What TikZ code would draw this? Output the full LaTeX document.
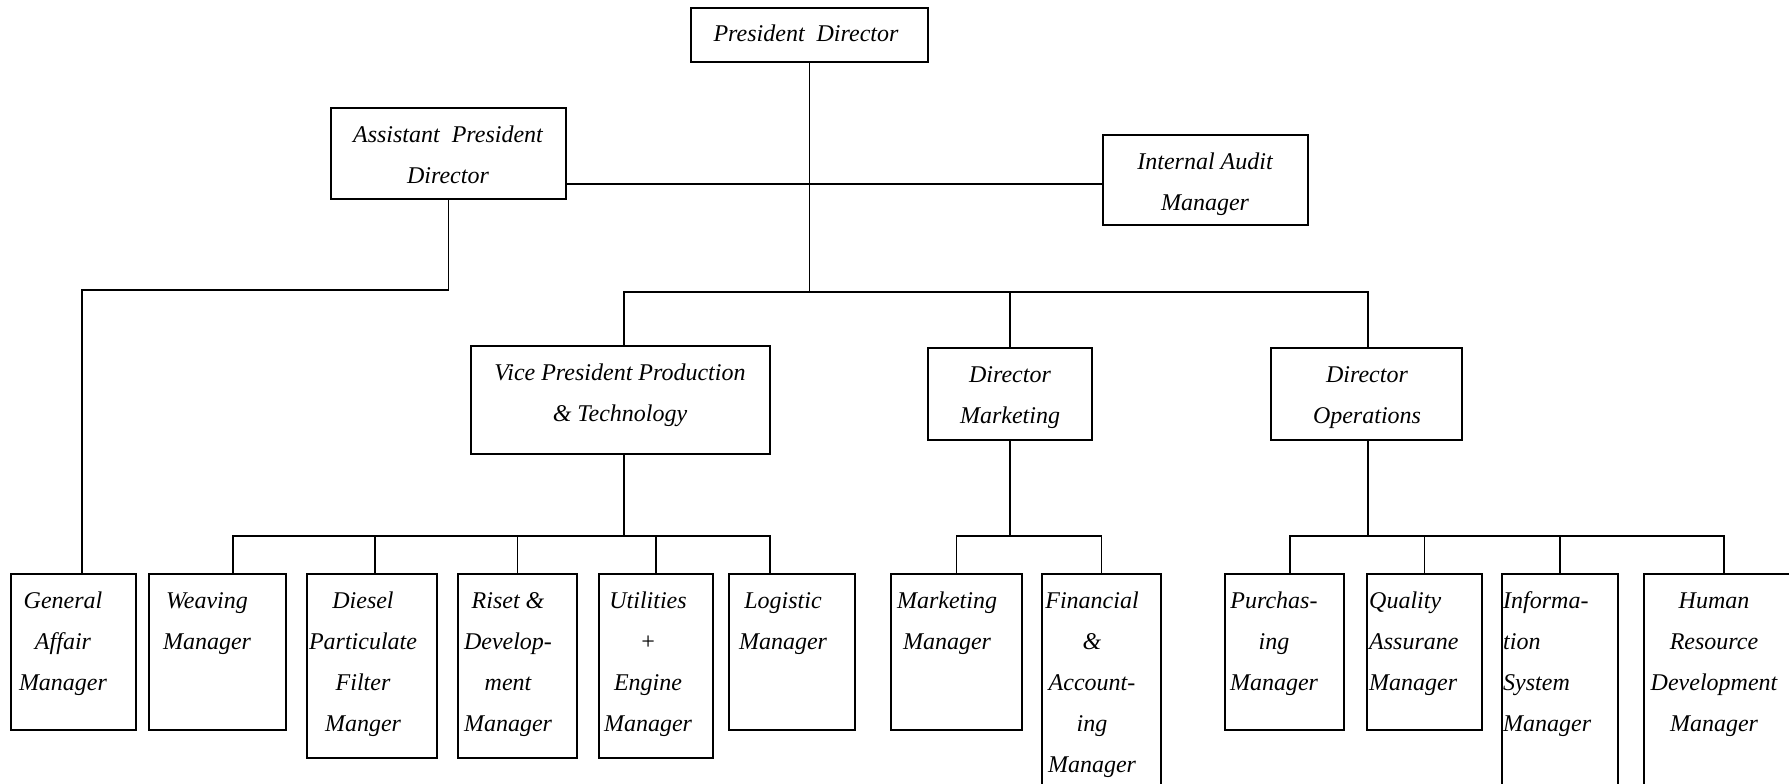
\documentclass[tikz,border=0pt]{standalone}
\usepackage{fontspec}
\setmainfont{Liberation Serif}
\newcommand{\cbx}[1]{\begin{tabular}[t]{@{}c@{}}#1\end{tabular}}
\newcommand{\lbx}[1]{\begin{tabular}[t]{@{}l@{}}#1\end{tabular}}
\begin{document}
\begin{tikzpicture}[x=1pt,y=-1pt,
  box/.style={draw=black,line width=1.7pt,rectangle,inner sep=0pt,outer sep=0pt,anchor=north west,fill=white},
  thickbox/.style={box,line width=2.8pt},
  lbl/.style={inner sep=0pt,font=\fontsize{24}{41}\selectfont\itshape,anchor=base},
  lbll/.style={lbl,anchor=base west},
  conn/.style={draw=black,line width=1.8pt}]
\useasboundingbox (0,0) rectangle (1789,784);
\clip (0,0) rectangle (1789,784);
\fill[white] (0,0) rectangle (1789,784);

% ---- boxes ----
\node[box,minimum width=237pt,minimum height=54pt] (pd) at (691,8) {};
\node[box,minimum width=235pt,minimum height=91pt] (apd) at (331,108) {};
\node[box,minimum width=205pt,minimum height=90pt] (iam) at (1103,135) {};
\node[box,minimum width=299pt,minimum height=108pt] (vp) at (471,346) {};
\node[box,minimum width=164pt,minimum height=92pt] (dm) at (928,348) {};
\node[box,minimum width=191pt,minimum height=92pt] (do) at (1271,348) {};

\node[box,minimum width=125pt,minimum height=156pt] (ga) at (11,574) {};
\node[thickbox,minimum width=137pt,minimum height=156pt] (wv) at (149,574) {};
\node[box,minimum width=130pt,minimum height=184pt] (ds) at (307,574) {};
\node[box,minimum width=119pt,minimum height=184pt] (rs) at (458,574) {};
\node[box,minimum width=114pt,minimum height=184pt] (ut) at (599,574) {};
\node[box,minimum width=126pt,minimum height=156pt] (lg) at (729,574) {};
\node[box,minimum width=131pt,minimum height=156pt] (mm) at (891,574) {};
\node[box,minimum width=119pt,minimum height=226pt] (fa) at (1042,574) {};
\node[box,minimum width=119pt,minimum height=156pt] (pu) at (1225,574) {};
\node[box,minimum width=115pt,minimum height=156pt] (qa) at (1367,574) {};
\node[box,minimum width=116pt,minimum height=226pt] (is) at (1502,574) {};
\node[box,minimum width=160pt,minimum height=226pt] (hr) at (1644,574) {};

% ---- connector levels and attachment points ----
\coordinate (hl) at (0,184);
\coordinate (tb) at (0,292);
\coordinate (ab) at (0,290);
\coordinate (pb) at (0,536);
\coordinate (vpT) at ([xshift=153pt]vp.north west);
\coordinate (vpB) at ([xshift=153pt]vp.south west);
\coordinate (doT) at ([xshift=97pt]do.north west);
\coordinate (doB) at ([xshift=97pt]do.south west);
\coordinate (gaT) at ([xshift=71pt]ga.north west);
\coordinate (wvT) at ([xshift=84pt]wv.north west);
\coordinate (dsT) at ([xshift=68pt]ds.north west);
\coordinate (lgT) at ([xshift=41pt]lg.north west);
\coordinate (puT) at ([xshift=65pt]pu.north west);

% ---- connectors ----
\draw[conn] (apd.east |- hl) -- (iam.west |- hl);
\draw[conn] (pd.south) -- (pd.south |- tb);
\draw[conn] (vpT) -- (vpT |- tb) -- (doT |- tb) -- (doT);
\draw[conn] (dm.north) -- (dm.north |- tb);
\draw[conn] (apd.south) -- (apd.south |- ab) -- (gaT |- ab) -- (gaT);

\draw[conn] (vpB) -- (vpB |- pb);
\draw[conn] (wvT) -- (wvT |- pb) -- (lgT |- pb) -- (lgT);
\draw[conn] (dsT) -- (dsT |- pb);
\foreach \n in {rs,ut} \draw[conn] (\n.north) -- (\n.north |- pb);

\draw[conn] (dm.south) -- (dm.south |- pb);
\draw[conn] (mm.north) -- (mm.north |- pb) -- (fa.north |- pb) -- (fa.north);

\draw[conn] (doB) -- (doB |- pb);
\draw[conn] (puT) -- (puT |- pb) -- (hr.north |- pb) -- (hr.north);
\foreach \n in {qa,is} \draw[conn] (\n.north) -- (\n.north |- pb);

% ---- texts ----
\node[lbl] (pdt) at (806,42) {President\ \ Director};
\node[lbl] (apdt) at (448,142) {\cbx{Assistant\ \ President\\Director}};
\node[lbl] (iamt) at (1205,169) {\cbx{Internal Audit\\Manager}};
\node[lbl] (vpt) at (620,380) {\cbx{Vice President Production\\\& Technology}};
\node[lbl] (dmt) at (1010,382) {\cbx{Director\\Marketing}};
\node[lbl] (dot) at (1367,382) {\cbx{Director\\Operations}};

\node[lbl] (gat) at (63,608) {\cbx{General\\Affair\\Manager}};
\node[lbl] (wvt) at (207,608) {\cbx{Weaving\\Manager}};
\node[lbl] (dst) at (363,608) {\cbx{Diesel\\Particulate\\Filter\\Manger}};
\node[lbl] (rst) at (508,608) {\cbx{Riset \&\\Develop-\\ment\\Manager}};
\node[lbl] (utt) at (648,608) {\cbx{Utilities\\+\\Engine\\Manager}};
\node[lbl] (lgt) at (783,608) {\cbx{Logistic\\Manager}};
\node[lbl] (mmt) at (947,608) {\cbx{Marketing\\Manager}};
\node[lbl] (fat) at (1092,608) {\cbx{Financial\\\&\\Account-\\ing\\Manager}};
\node[lbl] (put) at (1274,608) {\cbx{Purchas-\\ing\\Manager}};
\node[lbll] (qat) at (1369,608) {\lbx{Quality\\Assurane\\Manager}};
\node[lbll] (ist) at (1503,608) {\lbx{Informa-\\tion\\System\\Manager}};
\node[lbl] (hrt) at (1714,608) {\cbx{Human\\Resource\\Development\\Manager}};
\end{tikzpicture}
\end{document}
